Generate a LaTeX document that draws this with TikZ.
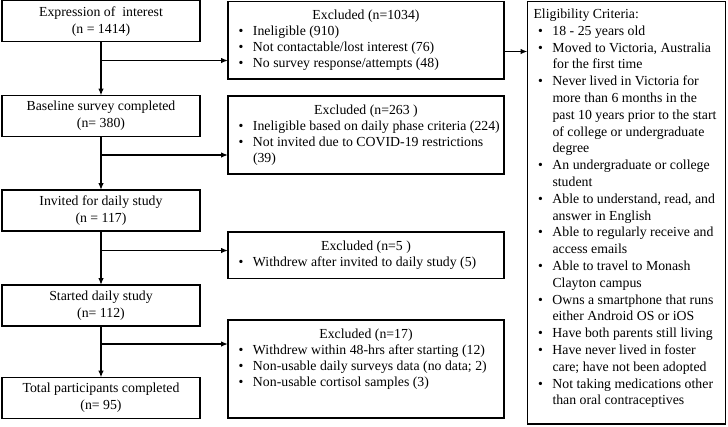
\documentclass[tikz,border=0pt]{standalone}
\usepackage{fontspec}
\setmainfont{Liberation Serif}
\usetikzlibrary{arrows.meta}
\newcommand{\bitem}[1]{\hspace*{10.5pt}\makebox[14.5pt][l]{•}#1}
\newcommand{\bcont}[1]{\hspace*{25pt}#1}
\newcommand{\extitle}[1]{\centering\rule{0pt}{18pt}#1\par\raggedright}
\tikzset{
  box/.style={draw, line width=1.3pt, inner sep=0pt, outer sep=0pt},
  lbox/.style={box, minimum width=198pt, minimum height=41pt, align=center,
    font=\fontsize{13.8}{17}\selectfont},
  arr/.style={line width=1.3pt, -{Latex[length=7pt,width=5.5pt]}},
  ln/.style={line width=1.3pt}
}
\begin{document}
\begin{tikzpicture}[x=1pt,y=-1pt]
\useasboundingbox (0,0) rectangle (728,426);
% left column
\node[lbox] (b1) at (101,21.3) {Expression of \ interest\\(n = 1414)};
\node[lbox] (b2) at (101,116) {Baseline survey completed\\(n= 380)};
\node[lbox] (b3) at (101,210.5) {Invited for daily study\\(n = 117)};
\node[lbox] (b4) at (101,305.5) {Started daily study\\(n= 112)};
\node[lbox] (b5) at (101,398) {Total participants completed\\(n= 95)};
% excluded boxes
\node[box, anchor=north west] (e1) at (228,1.5) {\parbox[c][77.5pt][t]{276pt}{\fontsize{13.8}{16}\selectfont
  \extitle{Excluded (n=1034)}
  \bitem{Ineligible (910)}\par
  \bitem{Not contactable/lost interest (76)}\par
  \bitem{No survey response/attempts (48)}\par}};
\node[box, anchor=north west] (e2) at (228,96) {\parbox[c][78pt][t]{276pt}{\fontsize{13.8}{16}\selectfont
  \extitle{Excluded (n=263 )}
  \bitem{Ineligible based on daily phase criteria (224)}\par
  \bitem{Not invited due to COVID-19 restrictions}\par
  \bcont{(39)}\par}};
\node[box, anchor=north west] (e3) at (228,232) {\parbox[c][46.5pt][t]{276pt}{\fontsize{13.8}{16}\selectfont
  \extitle{Excluded (n=5 )}
  \bitem{Withdrew after invited to daily study (5)}\par}};
\node[box, anchor=north west] (e4) at (228,320) {\parbox[c][98pt][t]{276pt}{\fontsize{13.8}{16}\selectfont
  \extitle{Excluded (n=17)}
  \bitem{Withdrew within 48-hrs after starting (12)}\par
  \bitem{Non-usable daily surveys data (no data; 2)}\par
  \bitem{Non-usable cortisol samples (3)}\par}};
% eligibility box
\node[box, anchor=north west] (el) at (527.5,1.5) {\parbox[c][422.5pt][t]{198pt}{\fontsize{13.8}{16.8}\selectfont\raggedright
  \rule{0pt}{17pt}\hspace*{6pt}Eligibility Criteria:\par
  \bitem{18 - 25 years old}\par
  \bitem{Moved to Victoria, Australia}\par
  \bcont{for the first time}\par
  \bitem{Never lived in Victoria for}\par
  \bcont{more than 6 months in the}\par
  \bcont{past 10 years prior to the start}\par
  \bcont{of college or undergraduate}\par
  \bcont{degree}\par
  \bitem{An undergraduate or college}\par
  \bcont{student}\par
  \bitem{Able to understand, read, and}\par
  \bcont{answer in English}\par
  \bitem{Able to regularly receive and}\par
  \bcont{access emails}\par
  \bitem{Able to travel to Monash}\par
  \bcont{Clayton campus}\par
  \bitem{Owns a smartphone that runs}\par
  \bcont{either Android OS or iOS}\par
  \bitem{Have both parents still living}\par
  \bitem{Have never lived in foster}\par
  \bcont{care; have not been adopted}\par
  \bitem{Not taking medications other}\par
  \bcont{than oral contraceptives}\par}};
% junction coordinates
\coordinate (j1) at (b1.south |- 0,60.5);
\coordinate (j2) at (b2.south |- 0,155);
\coordinate (j3) at (b3.south |- 0,250.5);
\coordinate (j4) at (b4.south |- 0,344);
\coordinate (y51) at (0,51.5);
% connectors
\draw[arr] (b1.south) -- (b2.north);
\draw[arr] (b2.south) -- (b3.north);
\draw[arr] (b3.south) -- (b4.north);
\draw[arr] (b4.south) -- (b5.north);
\draw[arr] (j1) -- (e1.west |- j1);
\draw[arr] (j2) -- (e2.west |- j2);
\draw[arr] (j3) -- (e3.west |- j3);
\draw[arr] (j4) -- (e4.west |- j4);
\draw[arr] (e1.east |- y51) -- (el.west |- y51);
\end{tikzpicture}
\end{document}
